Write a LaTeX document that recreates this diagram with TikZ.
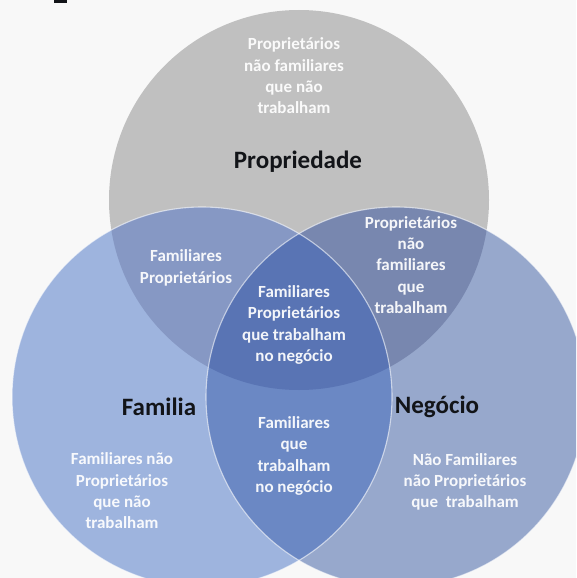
\documentclass[tikz,border=0pt]{standalone}
\usepackage{fontspec}
\setmainfont{Carlito}
\usepackage{tikz}
\definecolor{bg}{HTML}{F8F8F8}
\definecolor{ink}{HTML}{121418}
\definecolor{propc}{HTML}{C0C0C0}
\definecolor{famc}{HTML}{9EB4DE}
\definecolor{negc}{HTML}{97A8CC}
\definecolor{propfam}{HTML}{8698C4}
\definecolor{propneg}{HTML}{7887AF}
\definecolor{famneg}{HTML}{6B88C4}
\definecolor{allthree}{HTML}{5974B4}
\tikzset{
  ring/.style={draw=white, draw opacity=0.6, line width=1.1pt},
  lab/.style={text=white, text opacity=0.93, font=\fontsize{17}{21.3}\selectfont\bfseries, align=center, inner sep=0pt},
  head/.style={text=ink, font=\fontsize{25}{30}\selectfont\bfseries, inner sep=0pt},
}

\begin{document}
\begin{tikzpicture}[x=1pt,y=-1pt]
  \def\rad{190pt}
  \useasboundingbox (0,0) rectangle (576,578);
  \clip (0,0) rectangle (576,578);
  \fill[bg] (0,0) rectangle (576,578);
  \fill[ink] (54,0.5) rectangle (67,3);

  \coordinate (T) at (299,200);
  \coordinate (L) at (202,397);
  \coordinate (R) at (396,397);

  % the three sets
  \fill[propc] (T) circle (\rad);
  \fill[famc] (L) circle (\rad);
  \fill[negc] (R) circle (\rad);
  \begin{scope}
    \clip (T) circle (\rad);
    \fill[propfam] (L) circle (\rad);
    \fill[propneg] (R) circle (\rad);
  \end{scope}
  \begin{scope}
    \clip (L) circle (\rad);
    \fill[famneg] (R) circle (\rad);
    \clip (T) circle (\rad);
    \fill[allthree] (R) circle (\rad);
  \end{scope}
  \draw[ring] (L) circle (\rad);
  \draw[ring] (R) circle (\rad);

  % set names
  \node[head] (propName) at (298,162) {Propriedade};
  \node[head] (famName) at (159,407) {Familia};
  \node[head] (negName) at (437,407) {Negócio};

  % regions
  \node[lab] (propOnly) at (294,76) {Proprietários\\não familiares\\que não\\trabalham};
  \node[lab] (propFam) at (186,268) {Familiares\\Proprietários};
  \node[lab] (propNeg) at (411,265) {Proprietários\\não\\familiares\\que\\trabalham};
  \node[lab] (core) at (294,325) {Familiares\\Proprietários\\que trabalham\\no negócio};
  \node[lab] (famNeg) at (294,456) {Familiares\\que\\trabalham\\no negócio};
  \node[lab] (famOnly) at (122,491) {Familiares não\\Proprietários\\que não\\trabalham};
  \node[lab] (negOnly) at (465,482) {Não Familiares\\não Proprietários\\que~ trabalham};
\end{tikzpicture}
\end{document}
